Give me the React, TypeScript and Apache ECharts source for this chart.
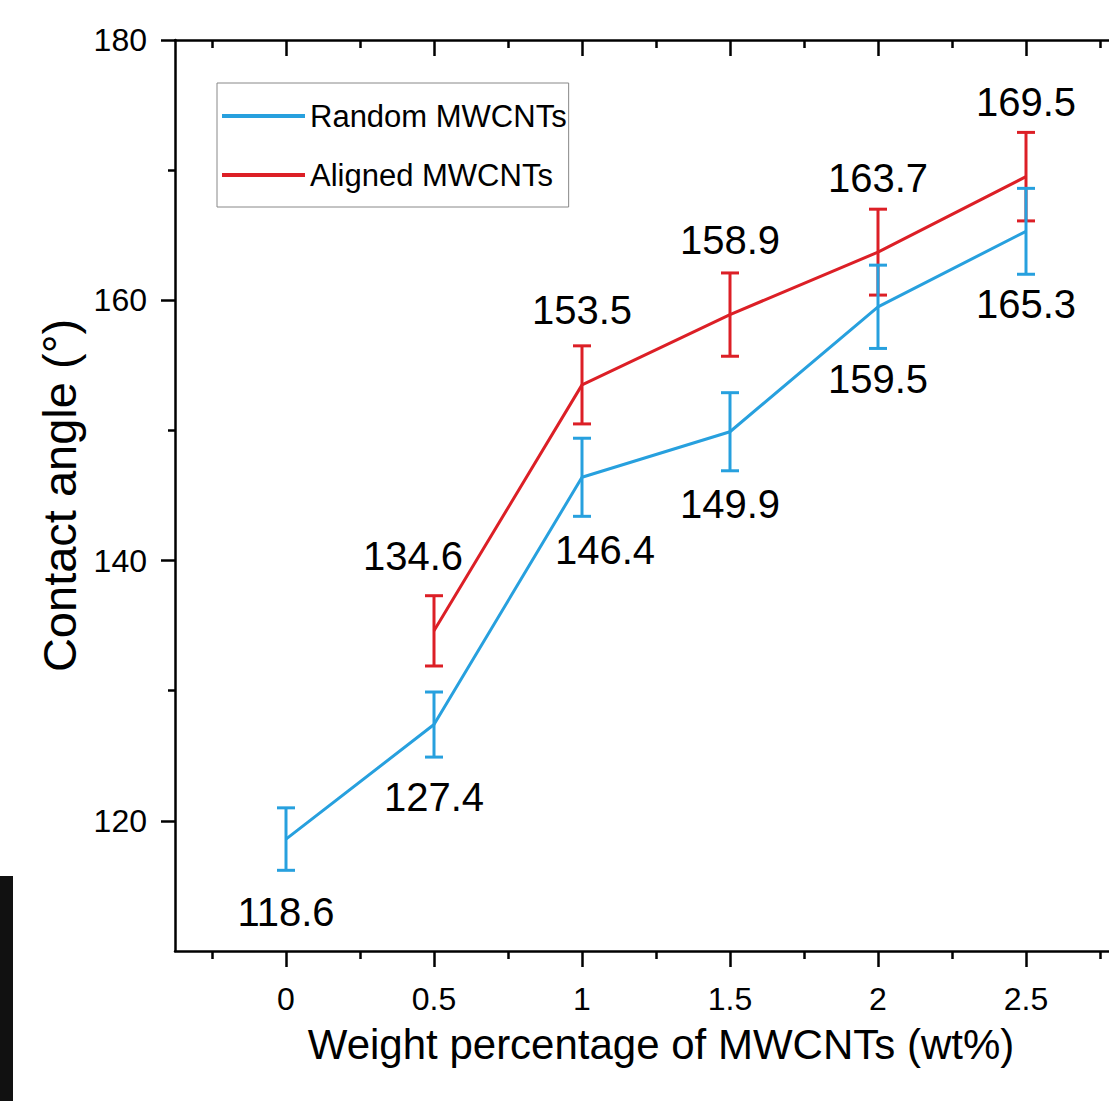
import React, { useEffect, useRef } from "react";
import * as echarts from "echarts";

const xValues = [0, 0.5, 1, 1.5, 2, 2.5];
const randomValues = [118.6, 127.4, 146.4, 149.9, 159.5, 165.3];
const randomErrors = [2.4, 2.5, 3.0, 3.0, 3.2, 3.3];
const alignedX = [0.5, 1, 1.5, 2, 2.5];
const alignedValues = [134.6, 153.5, 158.9, 163.7, 169.5];
const alignedErrors = [2.7, 3.0, 3.2, 3.3, 3.4];
const xMajorTicks = [0, 0.5, 1, 1.5, 2, 2.5];
const xMinorTicks = [-0.25, 0.25, 0.75, 1.25, 1.75, 2.25, 2.75];
const yMajorTicks = [120, 140, 160, 180];
const yMinorTicks = [130, 150, 170];
const seriesNames = ["Random MWCNTs", "Aligned MWCNTs"];

const BLUE = "#27A0DE";
const RED = "#DC1F26";
const FONT = "Liberation Sans, Arial, sans-serif";

export default function App() {
  const ref = useRef<HTMLDivElement>(null);
  useEffect(() => {
    if (!ref.current) return;
    const chart = echarts.init(ref.current, undefined, { renderer: "svg" });
    const errRender = (color: string) => (params: any, api: any) => {
      const x = api.value(0);
      const lo = api.coord([x, api.value(1)]);
      const hi = api.coord([x, api.value(2)]);
      const w = 9;
      const style = { stroke: color, lineWidth: 3 };
      return {
        type: "group",
        children: [
          { type: "line", shape: { x1: lo[0], y1: lo[1], x2: hi[0], y2: hi[1] }, style },
          { type: "line", shape: { x1: lo[0] - w, y1: lo[1], x2: lo[0] + w, y2: lo[1] }, style },
          { type: "line", shape: { x1: hi[0] - w, y1: hi[1], x2: hi[0] + w, y2: hi[1] }, style },
        ],
      };
    };
    const randomShift: Record<number, number> = { 1: 23 };
    const alignedShift: Record<number, number> = { 0.5: -21 };
    const axisLineOn = { show: true, onZero: false, lineStyle: { color: "#000", width: 2.5 } };
    const axisLineOff = { show: false, onZero: false };
    const xBase = {
      type: "value",
      min: -0.375,
      max: 2.875,
      splitLine: { show: false },
    };
    const yBase = {
      type: "value",
      min: 110,
      max: 180,
      splitLine: { show: false },
    };
    const option: any = {
      animation: false,
      backgroundColor: "#fff",
      textStyle: { fontFamily: FONT },
      grid: { left: 175, right: 10, top: 40, bottom: 150 },
      legend: {
        orient: "vertical",
        left: 217,
        top: 83,
        padding: [15, 2, 14, 5],
        itemGap: 23,
        itemWidth: 83,
        itemHeight: 4,
        borderColor: "#888",
        borderWidth: 1,
        textStyle: { fontSize: 31, lineHeight: 36, color: "#000", fontFamily: FONT },
        data: seriesNames.map((n) => ({ name: n, icon: "rect" })),
      },
      xAxis: [
        {
          ...xBase,
          position: "bottom",
          axisLine: axisLineOn,
          name: "Weight percentage of MWCNTs (wt%)",
          nameLocation: "middle",
          nameGap: 72,
          nameTextStyle: { fontSize: 42, color: "#000", fontFamily: FONT, padding: [0, 0, 0, 10] },
          axisTick: { show: true, inside: false, length: 16, customValues: xMajorTicks, lineStyle: { color: "#000", width: 2.5 } },
          axisLabel: { show: true, customValues: xMajorTicks, margin: 32, fontSize: 32, color: "#000", fontFamily: FONT, formatter: (v: number) => String(v) },
        },
        {
          ...xBase,
          position: "bottom",
          axisLine: axisLineOff,
          axisTick: { show: true, inside: false, length: 8, customValues: xMinorTicks, lineStyle: { color: "#000", width: 2.5 } },
          axisLabel: { show: false },
        },
        {
          ...xBase,
          position: "top",
          axisLine: axisLineOn,
          axisTick: { show: true, inside: true, length: 16, customValues: xMajorTicks, lineStyle: { color: "#000", width: 2.5 } },
          axisLabel: { show: false },
        },
        {
          ...xBase,
          position: "top",
          axisLine: axisLineOff,
          axisTick: { show: true, inside: true, length: 8, customValues: xMinorTicks, lineStyle: { color: "#000", width: 2.5 } },
          axisLabel: { show: false },
        },
      ],
      yAxis: [
        {
          ...yBase,
          position: "left",
          axisLine: axisLineOn,
          name: "Contact angle (°)",
          nameLocation: "middle",
          nameGap: 74,
          nameTextStyle: { fontSize: 47, color: "#000", fontFamily: FONT },
          axisTick: { show: true, inside: false, length: 14, customValues: yMajorTicks, lineStyle: { color: "#000", width: 2.5 } },
          axisLabel: { show: true, customValues: yMajorTicks, margin: 28, fontSize: 32, color: "#000", fontFamily: FONT },
        },
        {
          ...yBase,
          position: "left",
          axisLine: axisLineOff,
          axisTick: { show: true, inside: false, length: 7, customValues: yMinorTicks, lineStyle: { color: "#000", width: 2.5 } },
          axisLabel: { show: false },
        },
      ],
      graphic: [
        { type: "rect", left: 0, top: 876, shape: { width: 13, height: 225 }, style: { fill: "#111" } },
      ],
      series: [
        {
          name: seriesNames[1],
          type: "line",
          xAxisIndex: 0,
          yAxisIndex: 0,
          color: RED,
          symbol: "circle",
          symbolSize: 1,
          lineStyle: { width: 3, color: RED },
          itemStyle: { color: RED },
          data: alignedX.map((x, i) => ({
            value: [x, alignedValues[i]],
            label: { offset: [alignedShift[x] || 0, 0] },
          })),
          label: { show: true, position: "top", distance: 54, fontSize: 40, color: "#000", fontFamily: FONT, formatter: (p: any) => p.value[1].toFixed(1) },
          z: 3,
        },
        {
          name: "Aligned error",
          type: "custom",
          xAxisIndex: 0,
          yAxisIndex: 0,
          renderItem: errRender(RED),
          data: alignedX.map((x, i) => [x, alignedValues[i] - alignedErrors[i], alignedValues[i] + alignedErrors[i]]),
          z: 4,
        },
        {
          name: seriesNames[0],
          type: "line",
          xAxisIndex: 0,
          yAxisIndex: 0,
          color: BLUE,
          symbol: "circle",
          symbolSize: 1,
          lineStyle: { width: 3, color: BLUE },
          itemStyle: { color: BLUE },
          data: xValues.map((x, i) => ({
            value: [x, randomValues[i]],
            label: { offset: [randomShift[x] || 0, 0] },
          })),
          label: { show: true, position: "bottom", distance: 52, fontSize: 40, color: "#000", fontFamily: FONT, formatter: (p: any) => p.value[1].toFixed(1) },
          z: 3,
        },
        {
          name: "Random error",
          type: "custom",
          xAxisIndex: 0,
          yAxisIndex: 0,
          renderItem: errRender(BLUE),
          data: xValues.map((x, i) => [x, randomValues[i] - randomErrors[i], randomValues[i] + randomErrors[i]]),
          z: 5,
        },
      ],
    };
    chart.setOption(option);
    return () => chart.dispose();
  }, []);
  return (
    <div style={{ position: "absolute", left: 0, top: 0, width: 1109, height: 1101, overflow: "hidden", background: "#fff" }}>
      <div ref={ref} style={{ width: 1147, height: 1101 }} />
    </div>
  );
}
